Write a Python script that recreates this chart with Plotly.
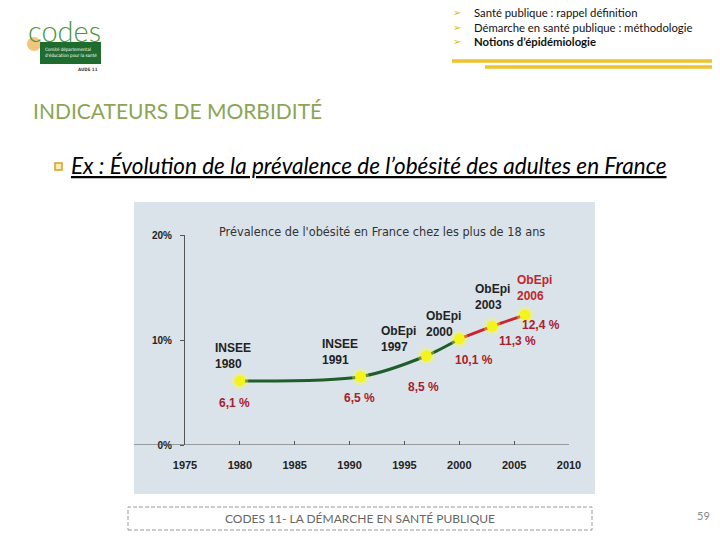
import plotly.graph_objects as go

# ---- data ----
years = [1980, 1991, 1997, 2000, 2003, 2006]
prevalence = [6.1, 6.5, 8.5, 10.1, 11.3, 12.4]
sources = ["INSEE", "INSEE", "ObEpi", "ObEpi", "ObEpi", "ObEpi"]
x_ticks = [1975, 1980, 1985, 1990, 1995, 2000, 2005, 2010]
y_ticks = [0, 10, 20]
y_tick_labels = ["0%", "10%", "20%"]
menu_items = ["Santé publique : rappel définition",
              "Démarche en santé publique : méthodologie",
              "<b>Notions d’épidémiologie</b>"]

W, H = 720, 540
def px(x): return x / W
def py(y): return 1 - y / H

fig = go.Figure()

split = years.index(2000)
fig.add_trace(go.Scatter(x=years[:split + 1], y=prevalence[:split + 1], mode="lines",
                         line=dict(color="#1f5e2c", width=3, shape="spline", smoothing=0.8),
                         hoverinfo="skip", cliponaxis=False))
fig.add_trace(go.Scatter(x=years[split:], y=prevalence[split:], mode="lines",
                         line=dict(color="#c8262e", width=3, shape="spline"),
                         hoverinfo="skip", cliponaxis=False))
fig.add_trace(go.Scatter(x=years, y=prevalence, mode="markers",
                         marker=dict(size=17, color="rgba(250,250,80,0.35)"),
                         hoverinfo="skip", cliponaxis=False))
fig.add_trace(go.Scatter(x=years, y=prevalence, mode="markers",
                         marker=dict(size=11, color="#f4f41c", line=dict(width=0)),
                         hoverinfo="skip", cliponaxis=False))

src_off = [(-7, 25), (-21, 25), (-28, 17), (-16, 15), (0, 29), (9, 27)]
val_off = [(-5, -22), (-1, -21), (-3, -31), (15, -21), (25, -15), (16, -10)]

annotations = []
for i, (yr, v, s) in enumerate(zip(years, prevalence, sources)):
    col = "#c0272d" if yr == years[-1] else "#222222"
    annotations.append(dict(x=yr, y=v, xref="x", yref="y", text=f"<b>{s}<br>{yr}</b>",
                            showarrow=False, align="left", xanchor="center", yanchor="middle",
                            xshift=src_off[i][0], yshift=src_off[i][1],
                            font=dict(family="Arial, Liberation Sans", size=12, color=col)))
    annotations.append(dict(x=yr, y=v, xref="x", yref="y",
                            text="<b>" + f"{v:.1f}".replace(".", ",") + " %</b>",
                            showarrow=False, xanchor="center", yanchor="middle",
                            xshift=val_off[i][0], yshift=val_off[i][1],
                            font=dict(family="Arial, Liberation Sans", size=12, color="#a8202c")))

def ptext(x, y, text, font, xanchor="left", yanchor="middle", align="left"):
    annotations.append(dict(x=px(x), y=py(y), xref="paper", yref="paper", showarrow=False,
                            xanchor=xanchor, yanchor=yanchor, align=align, text=text, font=font))

ptext(382, 231, "Prévalence de l'obésité en France chez les plus de 18 ans",
      dict(family="Liberation Sans Narrow, DejaVu Sans Condensed, sans-serif", size=12.6, color="#333333"),
      xanchor="center")

for i, t in enumerate(menu_items):
    yy = 12 + i * 15
    ptext(451, yy, "➢", dict(family="DejaVu Sans", size=10, color="#e3b512"))
    ptext(472, yy, t, dict(family="Lato, Open Sans", size=11.3, color="#111111"))

ptext(31, 110, "INDICATEURS DE MORBIDITÉ", dict(family="Lato, Open Sans", size=21, color="#8ba553"))
ptext(69, 166, "<i><u>Ex : Évolution de la prévalence de l’obésité des adultes en France</u></i>",
      dict(family="Lato, Open Sans", size=22.5, color="#000000"))
ptext(360, 518, "CODES 11- LA DÉMARCHE EN SANTÉ PUBLIQUE",
      dict(family="Lato, Open Sans", size=12, color="#666666"), xanchor="center")
ptext(712, 515, "59", dict(family="Lato, Open Sans", size=11, color="#888888"), xanchor="right")
# logo texts
ptext(26, 30, "codes", dict(family="Lato, Open Sans", size=29, color="#4a963c", weight=300))
ptext(99, 53, "Comité départemental<br>d'éducation pour la santé",
      dict(family="DejaVu Sans Condensed, sans-serif", size=4.5, color="#ffffff"), xanchor="right")
ptext(100, 69, "<b>AUDE 11</b>",
      dict(family="DejaVu Sans Condensed, sans-serif", size=4.5, color="#444444"), xanchor="right")

shapes = [
    dict(type="rect", xref="paper", yref="paper", x0=px(134), x1=px(595), y0=py(494), y1=py(202),
         fillcolor="#dae3e9", line=dict(width=0), layer="below"),
    dict(type="line", xref="paper", yref="y", x0=px(134), x1=px(569), y0=0, y1=0,
         line=dict(color="#555555", width=1.2)),
    dict(type="line", xref="paper", yref="paper", x0=px(452), x1=px(712), y0=py(61), y1=py(61),
         line=dict(color="#ebc42e", width=3.5)),
    dict(type="line", xref="paper", yref="paper", x0=px(485), x1=px(712), y0=py(67), y1=py(67),
         line=dict(color="#ebc42e", width=3.5)),
    dict(type="rect", xref="paper", yref="paper", x0=px(55), x1=px(62), y0=py(170), y1=py(163),
         fillcolor="#f8ecb8", line=dict(color="#d6a21e", width=1.5)),
    dict(type="rect", xref="paper", yref="paper", x0=px(128), x1=px(592), y0=py(530), y1=py(507),
         line=dict(color="#999999", width=1, dash="4px,2px")),
    dict(type="circle", xref="paper", yref="paper", x0=px(27), x1=px(41), y0=py(51), y1=py(37),
         fillcolor="#f3c57c", line=dict(width=0), layer="below"),
    dict(type="rect", xref="paper", yref="paper", x0=px(40), x1=px(101), y0=py(64), y1=py(42),
         fillcolor="#1f6d2e", line=dict(width=0)),
]

fig.update_layout(
    width=W, height=H, margin=dict(l=0, r=0, t=0, b=0, pad=0, autoexpand=False),
    paper_bgcolor="white", plot_bgcolor="rgba(0,0,0,0)", showlegend=False,
    xaxis=dict(domain=[px(185), px(569)], range=[1975, 2010], tickvals=x_ticks,
               ticktext=[f"<b>{t}</b>" for t in x_ticks], automargin=False,
               showgrid=False, zeroline=False, showline=False,
               ticks="inside", ticklen=4, tickcolor="#555555", ticklabelstandoff=12,
               tickfont=dict(family="Arial, Liberation Sans", size=11, color="#222222"),
               fixedrange=True),
    yaxis=dict(domain=[py(445), py(235)], range=[0, 20], tickvals=y_ticks,
               ticktext=[f"<b>{t}</b>" for t in y_tick_labels], automargin=False,
               showgrid=False, zeroline=False, showline=True, linecolor="#555555", linewidth=1.2,
               ticks="outside", ticklen=4, tickcolor="#555555", ticklabelstandoff=6,
               tickfont=dict(family="Arial, Liberation Sans", size=10, color="#222222"),
               fixedrange=True),
    annotations=annotations, shapes=shapes,
)

fig.write_html("out.html", config={"displayModeBar": False},
               post_script="document.body.style.margin='0';document.body.style.overflow='hidden';")
